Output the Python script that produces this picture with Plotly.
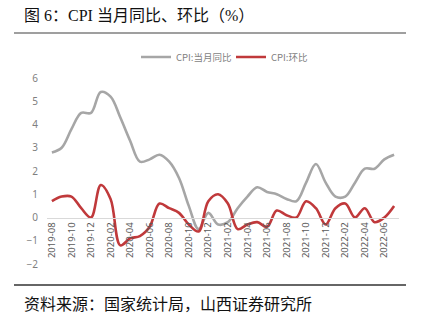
import plotly.graph_objects as go

months = ["2019-08","2019-09","2019-10","2019-11","2019-12",
          "2020-01","2020-02","2020-03","2020-04","2020-05","2020-06","2020-07","2020-08","2020-09","2020-10","2020-11","2020-12",
          "2021-01","2021-02","2021-03","2021-04","2021-05","2021-06","2021-07","2021-08","2021-09","2021-10","2021-11","2021-12",
          "2022-01","2022-02","2022-03","2022-04","2022-05","2022-06","2022-07"]
cpi_yoy = [2.8, 3.0, 3.8, 4.5, 4.5,
           5.4, 5.2, 4.3, 3.3, 2.4, 2.5, 2.7, 2.4, 1.7, 0.5, -0.5, 0.2,
           -0.3, -0.2, 0.4, 0.9, 1.3, 1.1, 1.0, 0.8, 0.7, 1.5, 2.3, 1.5,
           0.9, 0.9, 1.5, 2.1, 2.1, 2.5, 2.7]
cpi_mom = [0.7, 0.9, 0.9, 0.4, 0.0,
           1.4, 0.8, -1.2, -0.9, -0.8, -0.4, 0.6, 0.4, 0.2, -0.3, -0.6, 0.7,
           1.0, 0.6, -0.5, -0.3, -0.2, -0.4, 0.3, 0.1, 0.0, 0.7, 0.4, -0.3,
           0.4, 0.6, 0.0, 0.4, -0.2, 0.0, 0.5]
tick_labels = months[0::2]
series_names = ["CPI:当月同比", "CPI:环比"]
title_text = "图 6：CPI 当月同比、环比（%）"
source_text = "资料来源：国家统计局，山西证券研究所"

W, H = 424, 330
L, R, T, B = 47, 25, 78, 66
PW, PH = W - L - R, H - T - B

def px(x):
    return (x - L) / PW

def py(y):
    return (H - B - y) / PH

fig = go.Figure()
fig.add_trace(go.Scatter(x=months, y=cpi_yoy, mode="lines", name=series_names[0],
                         line=dict(color="#A6A6A6", width=2.6, shape="spline", smoothing=1)))
fig.add_trace(go.Scatter(x=months, y=cpi_mom, mode="lines", name=series_names[1],
                         line=dict(color="#C0393B", width=2.6, shape="spline", smoothing=1)))

fig.update_layout(
    width=W, height=H,
    margin=dict(l=L, r=R, t=T, b=B),
    paper_bgcolor="white", plot_bgcolor="white",
    font=dict(family="Noto Sans CJK SC, Noto Sans, sans-serif", color="#595959"),
    showlegend=True,
    legend=dict(orientation="h", x=px(136), y=py(57), xanchor="left", yanchor="middle",
                font=dict(size=9.5, color="#7F7F7F"), itemwidth=30, entrywidth=50,
                entrywidthmode="pixels", bgcolor="rgba(0,0,0,0)"),
    xaxis=dict(type="category", range=[-0.5, 35.5], anchor="free", position=0.25,
               showline=True, linecolor="#D9D9D9", linewidth=1.2, showgrid=False, zeroline=False,
               tickmode="array", tickvals=tick_labels, ticktext=tick_labels, tickangle=-90,
               tickfont=dict(size=9.5, color="#595959", family="Noto Sans, sans-serif"), ticks=""),
    yaxis=dict(range=[-2, 6], dtick=1, showgrid=False, zeroline=False, showline=False,
               tickfont=dict(size=10, color="#7F7F7F", family="Noto Sans, sans-serif"),
               ticks="", ticklabelstandoff=8),
    shapes=[
        dict(type="line", xref="paper", yref="paper", x0=px(14), x1=px(406), y0=py(33), y1=py(33),
             line=dict(color="#7F7F7F", width=1.5)),
        dict(type="line", xref="paper", yref="paper", x0=px(14), x1=px(406), y0=py(285), y1=py(285),
             line=dict(color="#333333", width=1.5)),
    ],
    annotations=[
        dict(text=title_text, xref="paper", yref="paper", x=px(22), y=py(15), xanchor="left", yanchor="middle",
             showarrow=False, font=dict(size=16, color="#111111", family="Liberation Serif, Noto Sans CJK SC, serif")),
        dict(text=source_text, xref="paper", yref="paper", x=px(22), y=py(303), xanchor="left", yanchor="middle",
             showarrow=False, font=dict(size=16, color="#111111", family="Noto Sans CJK SC, sans-serif")),
    ],
)

fig.write_html("out.html")
